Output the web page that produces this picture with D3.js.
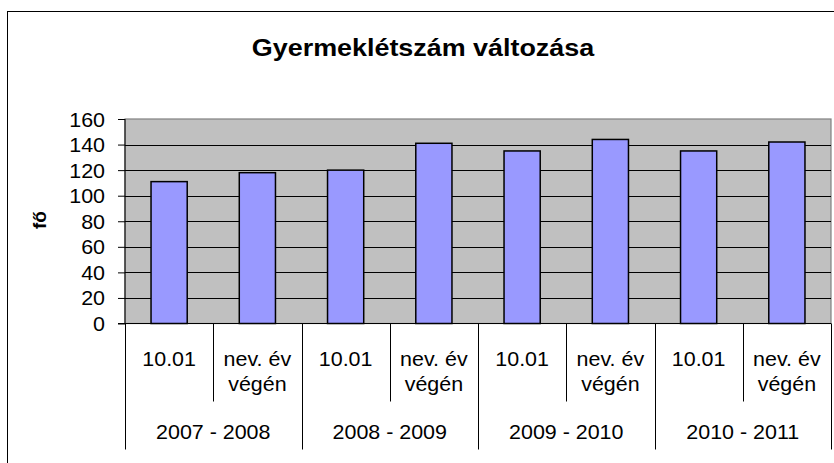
<!DOCTYPE html>
<meta charset="utf-8">
<style>

body {
  margin: 0;
  font-family: 'Liberation Sans', Arial, sans-serif;
  background: #fff;
}

svg {
  display: block;
}

</style>
<body>
<script src="https://cdn.jsdelivr.net/npm/d3@7"></script>
<script>

var groups = ["2007 - 2008", "2008 - 2009", "2009 - 2010", "2010 - 2011"];
var periods = ["10.01", "nev. év végén"];
var values = [111, 118, 120, 141, 135, 144, 135, 142];
var yTicks = [0, 20, 40, 60, 80, 100, 120, 140, 160];

var width = 834,
    height = 463;

var margin = {top: 119, right: 3, bottom: 140, left: 125};
var innerW = width - margin.left - margin.right,
    innerH = 323.5 - margin.top;

// each category = group + period
var cats = [];
groups.forEach(function(g) {
  periods.forEach(function(p) {
    cats.push(g + "|" + p);
  });
});

var sx = 1.1; // labels look stretched horizontally in the original
var fs = "19.5px";

var svg = d3.select("body").append("svg")
    .attr("width", width)
    .attr("height", height);

// outer chart border
svg.append("rect")
    .attr("x", 7.5)
    .attr("y", 11.5)
    .attr("width", 840)
    .attr("height", 470)
    .attr("fill", "#fff")
    .attr("stroke", "#000")
    .attr("stroke-width", 1);

svg.append("text")
    .attr("transform", "translate(423,56) scale(1.17,1)")
    .attr("text-anchor", "middle")
    .style("font-weight", "bold")
    .style("font-size", "23px")
    .text("Gyermeklétszám változása");

var g = svg.append("g")
    .attr("transform", "translate(" + margin.left + "," + margin.top + ")");

var x = d3.scaleBand()
    .domain(cats)
    .range([0, innerW])
    .paddingInner(0.59)
    .paddingOuter(0.295);

var y = d3.scaleLinear()
    .domain([0, 160])
    .range([innerH, 0]);

var step = x.step();

g.append("rect")
    .attr("width", innerW)
    .attr("height", innerH)
    .attr("fill", "#c0c0c0")
    .attr("stroke", "#808080")
    .attr("stroke-width", 1.2);

g.selectAll("line.grid")
    .data(yTicks.filter(function(d) { return d > 0 && d < 160; }))
  .enter().append("line")
    .attr("class", "grid")
    .attr("x1", 0)
    .attr("x2", innerW)
    .attr("y1", function(d) { return Math.round(y(d)) + 0.5; })
    .attr("y2", function(d) { return Math.round(y(d)) + 0.5; })
    .attr("stroke", "#000")
    .attr("stroke-width", 1);

g.selectAll("rect.bar")
    .data(values)
  .enter().append("rect")
    .attr("class", "bar")
    .attr("x", function(d, i) { return x(cats[i]); })
    .attr("width", x.bandwidth())
    .attr("y", function(d) { return y(d); })
    .attr("height", function(d) { return innerH - y(d); })
    .attr("fill", "#9999ff")
    .attr("stroke", "#000")
    .attr("stroke-width", 1.5);

// y axis
var yAxis = g.append("g")
    .call(d3.axisLeft(y).tickValues(yTicks).tickSize(7).tickPadding(13));

yAxis.select(".domain")
    .attr("d", "M0," + innerH + "V0")
    .attr("stroke", "#000");

yAxis.selectAll(".tick line").attr("stroke", "#000");

yAxis.selectAll(".tick text")
    .attr("fill", "#000")
    .style("font-size", fs)
    .style("font-family", "'Liberation Sans', Arial, sans-serif")
    .attr("dy", "0.36em")
    .attr("x", null)
    .attr("transform", "translate(-20,0) scale(" + sx + ",1)");

// x axis base line
g.append("line")
    .attr("x1", -7)
    .attr("x2", innerW)
    .attr("y1", innerH)
    .attr("y2", innerH)
    .attr("stroke", "#000");

// dividers: short ones between periods, long ones between groups
var bounds = d3.range(cats.length + 1);
g.selectAll("line.div")
    .data(bounds)
  .enter().append("line")
    .attr("class", "div")
    .attr("x1", function(k) { return Math.round(k * step) + 0.5; })
    .attr("x2", function(k) { return Math.round(k * step) + 0.5; })
    .attr("y1", innerH)
    .attr("y2", function(k) { return innerH + (k % 2 === 0 ? 126 : 78); })
    .attr("stroke", "#000");

// period labels
var catLabels = g.selectAll("g.cat")
    .data(cats)
  .enter().append("g")
    .attr("class", "cat")
    .attr("transform", function(d) {
      return "translate(" + (x(d) + x.bandwidth() / 2) + "," + (innerH + 42) + ")";
    });

catLabels.each(function(d) {
  var lines = d.split("|")[1] === "10.01" ? ["10.01"] : ["nev. év", "végén"];
  var sel = d3.select(this);
  lines.forEach(function(t, i) {
    sel.append("text")
      .attr("transform", "translate(0," + (i * 25) + ") scale(" + sx + ",1)")
      .attr("text-anchor", "middle")
      .style("font-size", fs)
      .text(t);
  });
});

// group labels
g.selectAll("text.grp")
    .data(groups)
  .enter().append("text")
    .attr("class", "grp")
    .attr("transform", function(d, i) {
      return "translate(" + ((i * 2 + 1) * step) + "," + (innerH + 115) + ") scale(" + sx + ",1)";
    })
    .attr("text-anchor", "middle")
    .style("font-size", fs)
    .text(function(d) { return d; });

// y axis title
svg.append("text")
    .attr("transform", "translate(46,220) rotate(-90)")
    .attr("text-anchor", "middle")
    .style("font-weight", "bold")
    .style("font-size", "19px")
    .text("fő");

</script>
</body>
